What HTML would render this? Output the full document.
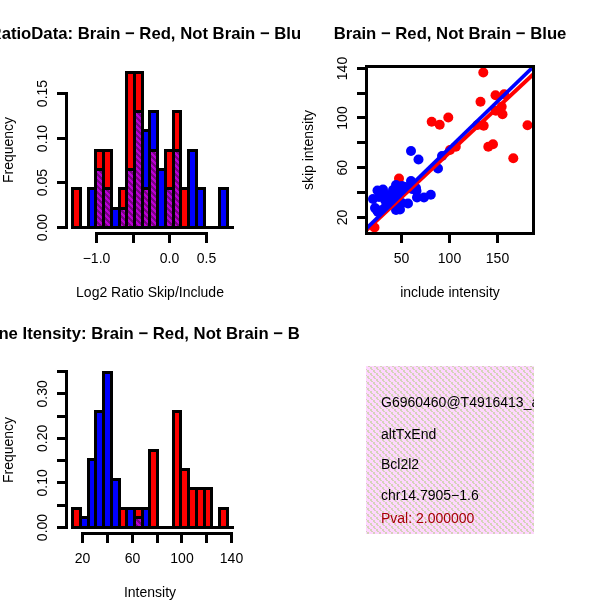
<!DOCTYPE html>
<html lang="en"><head><meta charset="utf-8"><title>Brain vs Not Brain plots</title>
<style>html,body{margin:0;padding:0;background:#fff}body{width:600px;height:600px;overflow:hidden}svg{display:block;will-change:transform;transform:translateZ(0)}text{white-space:pre}</style>
</head><body>
<svg width="600" height="600" viewBox="0 0 600 600" font-family="'Liberation Sans', sans-serif" fill="#000"><defs>
<pattern id="mg" width="6" height="6" patternUnits="userSpaceOnUse" shape-rendering="crispEdges"><rect width="6" height="6" fill="#b900d2"/><g fill="#7a0084"><rect x="0" y="0" width="1" height="1"/><rect x="1" y="0" width="1" height="1"/><rect x="2" y="0" width="1" height="1"/><rect x="1" y="1" width="1" height="1"/><rect x="2" y="1" width="1" height="1"/><rect x="3" y="1" width="1" height="1"/><rect x="2" y="2" width="1" height="1"/><rect x="3" y="2" width="1" height="1"/><rect x="4" y="2" width="1" height="1"/><rect x="3" y="3" width="1" height="1"/><rect x="4" y="3" width="1" height="1"/><rect x="5" y="3" width="1" height="1"/><rect x="0" y="4" width="1" height="1"/><rect x="4" y="4" width="1" height="1"/><rect x="5" y="4" width="1" height="1"/><rect x="0" y="5" width="1" height="1"/><rect x="1" y="5" width="1" height="1"/><rect x="5" y="5" width="1" height="1"/></g></pattern>
<pattern id="pk" x="0" y="0" width="6" height="6" patternUnits="userSpaceOnUse"><rect width="6" height="6" fill="#ffd6ff"/><g fill="#d4d4b9"><rect x="4" y="1" width="2" height="2"/><rect x="5" y="3" width="1" height="1"/><rect x="0" y="3" width="1" height="1"/><rect x="1" y="4" width="2" height="2"/><rect x="2" y="0" width="2" height="1"/></g></pattern>
</defs><rect width="600" height="600" fill="#fff"/><svg x="0" y="0" width="300" height="300" viewBox="0 0 300 300" overflow="hidden"><text x="150" y="38.6" text-anchor="middle" font-size="16.7" font-weight="bold">RatioData: Brain − Red, Not Brain − Blue</text><g shape-rendering="crispEdges"><rect x="72.5" y="188.5" width="8.0" height="39.0" fill="#f00"/><rect x="88.5" y="188.5" width="7.0" height="39.0" fill="#00f"/><rect x="95.5" y="150.5" width="8.0" height="77.0" fill="#f00"/><rect x="95.5" y="169.5" width="8.0" height="58.0" fill="url(#mg)"/><rect x="103.5" y="150.5" width="8.0" height="77.0" fill="#f00"/><rect x="103.5" y="188.5" width="8.0" height="39.0" fill="url(#mg)"/><rect x="111.5" y="208.5" width="8.0" height="19.0" fill="#00f"/><rect x="119.5" y="188.5" width="7.0" height="39.0" fill="#f00"/><rect x="119.5" y="208.5" width="7.0" height="19.0" fill="url(#mg)"/><rect x="126.5" y="72.5" width="8.0" height="155.0" fill="#f00"/><rect x="126.5" y="169.5" width="8.0" height="58.0" fill="url(#mg)"/><rect x="134.5" y="72.5" width="8.0" height="155.0" fill="#f00"/><rect x="134.5" y="111.5" width="8.0" height="116.0" fill="url(#mg)"/><rect x="142.5" y="188.5" width="7.0" height="39.0" fill="#f00"/><rect x="142.5" y="130.5" width="7.0" height="58.0" fill="#00f"/><rect x="142.5" y="188.5" width="7.0" height="39.0" fill="url(#mg)"/><rect x="149.5" y="150.5" width="8.0" height="77.0" fill="#f00"/><rect x="149.5" y="111.5" width="8.0" height="39.0" fill="#00f"/><rect x="149.5" y="150.5" width="8.0" height="77.0" fill="url(#mg)"/><rect x="157.5" y="169.5" width="8.0" height="58.0" fill="#00f"/><rect x="165.5" y="150.5" width="8.0" height="77.0" fill="#f00"/><rect x="165.5" y="188.5" width="8.0" height="39.0" fill="url(#mg)"/><rect x="173.5" y="111.5" width="7.0" height="116.0" fill="#f00"/><rect x="173.5" y="150.5" width="7.0" height="77.0" fill="url(#mg)"/><rect x="180.5" y="188.5" width="8.0" height="39.0" fill="#f00"/><rect x="188.5" y="150.5" width="8.0" height="77.0" fill="#00f"/><rect x="196.5" y="188.5" width="8.0" height="39.0" fill="#00f"/><rect x="219.5" y="188.5" width="8.0" height="39.0" fill="#00f"/></g><g fill="none" stroke="#000" stroke-width="3" shape-rendering="crispEdges"><rect x="72.5" y="188.5" width="8.0" height="39.0"/><rect x="88.5" y="188.5" width="7.0" height="39.0"/><rect x="95.5" y="150.5" width="8.0" height="77.0"/><rect x="95.5" y="169.5" width="8.0" height="58.0"/><rect x="103.5" y="150.5" width="8.0" height="77.0"/><rect x="103.5" y="188.5" width="8.0" height="39.0"/><rect x="111.5" y="208.5" width="8.0" height="19.0"/><rect x="119.5" y="188.5" width="7.0" height="39.0"/><rect x="119.5" y="208.5" width="7.0" height="19.0"/><rect x="126.5" y="72.5" width="8.0" height="155.0"/><rect x="126.5" y="169.5" width="8.0" height="58.0"/><rect x="134.5" y="72.5" width="8.0" height="155.0"/><rect x="134.5" y="111.5" width="8.0" height="116.0"/><rect x="142.5" y="188.5" width="7.0" height="39.0"/><rect x="142.5" y="130.5" width="7.0" height="97.0"/><rect x="149.5" y="150.5" width="8.0" height="77.0"/><rect x="149.5" y="111.5" width="8.0" height="116.0"/><rect x="157.5" y="169.5" width="8.0" height="58.0"/><rect x="165.5" y="150.5" width="8.0" height="77.0"/><rect x="165.5" y="188.5" width="8.0" height="39.0"/><rect x="173.5" y="111.5" width="7.0" height="116.0"/><rect x="173.5" y="150.5" width="7.0" height="77.0"/><rect x="180.5" y="188.5" width="8.0" height="39.0"/><rect x="188.5" y="150.5" width="8.0" height="77.0"/><rect x="196.5" y="188.5" width="8.0" height="39.0"/><rect x="219.5" y="188.5" width="8.0" height="39.0"/><path d="M71 227.5H234"/></g><g fill="none" stroke="#000" stroke-width="3" shape-rendering="crispEdges"><path d="M66.5 92.0V229.0"/><path d="M57 227.5H68"/><path d="M57 182.5H68"/><path d="M57 138.5H68"/><path d="M57 93.5H68"/></g><text transform="translate(46.5 227.5) rotate(-90)" text-anchor="middle" font-size="14">0.00</text><text transform="translate(46.5 182.5) rotate(-90)" text-anchor="middle" font-size="14">0.05</text><text transform="translate(46.5 138.5) rotate(-90)" text-anchor="middle" font-size="14">0.10</text><text transform="translate(46.5 93.5) rotate(-90)" text-anchor="middle" font-size="14">0.15</text><g fill="none" stroke="#000" stroke-width="3" shape-rendering="crispEdges"><path d="M95.0 233.5H208.0"/><path d="M96.5 232.0V243.0"/><path d="M133.5 232.0V243.0"/><path d="M169.5 232.0V243.0"/><path d="M206.5 232.0V243.0"/></g><text x="96.5" y="263" text-anchor="middle" font-size="14">−1.0</text><text x="169.5" y="263" text-anchor="middle" font-size="14">0.0</text><text x="206.5" y="263" text-anchor="middle" font-size="14">0.5</text><text x="150" y="296.7" text-anchor="middle" font-size="14">Log2 Ratio Skip/Include</text><text transform="translate(13 150) rotate(-90)" text-anchor="middle" font-size="14">Frequency</text></svg><svg x="300" y="0" width="300" height="300" viewBox="0 0 300 300" overflow="hidden"><text x="150" y="38.6" text-anchor="middle" font-size="16.7" font-weight="bold">Brain − Red, Not Brain − Blue</text><clipPath id="cp"><rect x="65" y="65" width="170" height="170"/></clipPath><g clip-path="url(#cp)"><g fill="#f00"><circle cx="183.3" cy="72.5" r="5"/><circle cx="195.5" cy="95.3" r="5"/><circle cx="204.2" cy="94.2" r="5"/><circle cx="180.5" cy="101.7" r="5"/><circle cx="201.7" cy="106.7" r="5"/><circle cx="195.8" cy="110.8" r="5"/><circle cx="202.5" cy="114.2" r="5"/><circle cx="148.3" cy="117.5" r="5"/><circle cx="139.7" cy="124.7" r="5"/><circle cx="131.7" cy="121.7" r="5"/><circle cx="183.7" cy="125.8" r="5"/><circle cx="177.5" cy="125" r="5"/><circle cx="227.5" cy="125.3" r="5"/><circle cx="188.3" cy="146.7" r="5"/><circle cx="193" cy="144.2" r="5"/><circle cx="213.3" cy="158.3" r="5"/><circle cx="155.8" cy="146.7" r="5"/><circle cx="150" cy="150" r="5"/><circle cx="99" cy="178.5" r="5"/><circle cx="74.5" cy="227.5" r="5"/></g><g fill="#00f"><circle cx="111" cy="151" r="5"/><circle cx="118.5" cy="159.5" r="5"/><circle cx="142" cy="156" r="5"/><circle cx="138" cy="168.5" r="5"/><circle cx="111" cy="181" r="5"/><circle cx="102" cy="186" r="5"/><circle cx="116" cy="188" r="5"/><circle cx="73" cy="199" r="5"/><circle cx="77.5" cy="190.5" r="5"/><circle cx="83" cy="189.5" r="5"/><circle cx="75" cy="208" r="5"/><circle cx="78" cy="212" r="5"/><circle cx="85" cy="200" r="5"/><circle cx="87" cy="195" r="5"/><circle cx="96" cy="185" r="5"/><circle cx="93" cy="190" r="5"/><circle cx="100" cy="191" r="5"/><circle cx="105" cy="187" r="5"/><circle cx="112" cy="189" r="5"/><circle cx="116.5" cy="191" r="5"/><circle cx="117" cy="197.5" r="5"/><circle cx="108" cy="203.5" r="5"/><circle cx="102" cy="203" r="5"/><circle cx="96" cy="210" r="5"/><circle cx="100" cy="209.5" r="5"/><circle cx="92" cy="203" r="5"/><circle cx="86" cy="206" r="5"/><circle cx="82" cy="210" r="5"/><circle cx="124" cy="197.5" r="5"/><circle cx="130.8" cy="194.7" r="5"/><circle cx="76.7" cy="210" r="5"/><circle cx="79" cy="197" r="5"/><circle cx="94" cy="196" r="5"/><circle cx="96" cy="203" r="5"/><circle cx="90" cy="199" r="5"/></g><path d="M66 230.5L233 74.5" stroke="#f00" stroke-width="3.8" fill="none"/><path d="M66 229L233 67" stroke="#00f" stroke-width="3.8" fill="none"/></g><g fill="none" stroke="#000" stroke-width="3" shape-rendering="crispEdges"><rect x="66.5" y="66.5" width="167" height="167"/><path d="M57 217.5H68"/><path d="M57 192.5H68"/><path d="M57 167.5H68"/><path d="M57 142.5H68"/><path d="M57 117.5H68"/><path d="M57 93.5H68"/><path d="M57 68.5H68"/><path d="M101.5 232V243"/><path d="M149.5 232V243"/><path d="M197.5 232V243"/></g><text transform="translate(46.5 217.5) rotate(-90)" text-anchor="middle" font-size="14">20</text><text transform="translate(46.5 167.8) rotate(-90)" text-anchor="middle" font-size="14">60</text><text transform="translate(46.5 118) rotate(-90)" text-anchor="middle" font-size="14">100</text><text transform="translate(46.5 68.5) rotate(-90)" text-anchor="middle" font-size="14">140</text><text x="101.5" y="263" text-anchor="middle" font-size="14">50</text><text x="149.5" y="263" text-anchor="middle" font-size="14">100</text><text x="197.5" y="263" text-anchor="middle" font-size="14">150</text><text x="150" y="296.7" text-anchor="middle" font-size="14">include intensity</text><text transform="translate(13 150) rotate(-90)" text-anchor="middle" font-size="14">skip intensity</text></svg><svg x="0" y="300" width="300" height="300" viewBox="0 0 300 300" overflow="hidden"><text x="150" y="38.6" text-anchor="middle" font-size="16.7" font-weight="bold">Gene Itensity: Brain − Red, Not Brain − Blue</text><g shape-rendering="crispEdges"><rect x="72.5" y="208.5" width="8.0" height="19.0" fill="#f00"/><rect x="80.5" y="217.5" width="8.0" height="10.0" fill="#00f"/><rect x="88.5" y="159.5" width="7.0" height="68.0" fill="#00f"/><rect x="95.5" y="111.5" width="8.0" height="116.0" fill="#00f"/><rect x="103.5" y="72.5" width="8.0" height="155.0" fill="#00f"/><rect x="111.5" y="179.5" width="8.0" height="48.0" fill="#00f"/><rect x="119.5" y="208.5" width="7.0" height="19.0" fill="#f00"/><rect x="126.5" y="208.5" width="8.0" height="19.0" fill="#00f"/><rect x="134.5" y="208.5" width="8.0" height="19.0" fill="#f00"/><rect x="134.5" y="217.5" width="8.0" height="10.0" fill="url(#mg)"/><rect x="142.5" y="208.5" width="7.0" height="19.0" fill="#00f"/><rect x="149.5" y="150.5" width="8.0" height="77.0" fill="#f00"/><rect x="173.5" y="111.5" width="7.0" height="116.0" fill="#f00"/><rect x="180.5" y="169.5" width="8.0" height="58.0" fill="#f00"/><rect x="188.5" y="188.5" width="8.0" height="39.0" fill="#f00"/><rect x="196.5" y="188.5" width="8.0" height="39.0" fill="#f00"/><rect x="204.5" y="188.5" width="7.0" height="39.0" fill="#f00"/><rect x="219.5" y="208.5" width="8.0" height="19.0" fill="#f00"/></g><g fill="none" stroke="#000" stroke-width="3" shape-rendering="crispEdges"><rect x="72.5" y="208.5" width="8.0" height="19.0"/><rect x="80.5" y="217.5" width="8.0" height="10.0"/><rect x="88.5" y="159.5" width="7.0" height="68.0"/><rect x="95.5" y="111.5" width="8.0" height="116.0"/><rect x="103.5" y="72.5" width="8.0" height="155.0"/><rect x="111.5" y="179.5" width="8.0" height="48.0"/><rect x="119.5" y="208.5" width="7.0" height="19.0"/><rect x="126.5" y="208.5" width="8.0" height="19.0"/><rect x="134.5" y="208.5" width="8.0" height="19.0"/><rect x="134.5" y="217.5" width="8.0" height="10.0"/><rect x="142.5" y="208.5" width="7.0" height="19.0"/><rect x="149.5" y="150.5" width="8.0" height="77.0"/><rect x="173.5" y="111.5" width="7.0" height="116.0"/><rect x="180.5" y="169.5" width="8.0" height="58.0"/><rect x="188.5" y="188.5" width="8.0" height="39.0"/><rect x="196.5" y="188.5" width="8.0" height="39.0"/><rect x="204.5" y="188.5" width="7.0" height="39.0"/><rect x="219.5" y="208.5" width="8.0" height="19.0"/><path d="M71 227.5H234"/></g><g fill="none" stroke="#000" stroke-width="3" shape-rendering="crispEdges"><path d="M66.5 70.0V229.0"/><path d="M57 227.5H68"/><path d="M57 205.5H68"/><path d="M57 182.5H68"/><path d="M57 160.5H68"/><path d="M57 138.5H68"/><path d="M57 116.5H68"/><path d="M57 93.5H68"/><path d="M57 71.5H68"/></g><text transform="translate(46.5 227.5) rotate(-90)" text-anchor="middle" font-size="14">0.00</text><text transform="translate(46.5 182.9) rotate(-90)" text-anchor="middle" font-size="14">0.10</text><text transform="translate(46.5 138.4) rotate(-90)" text-anchor="middle" font-size="14">0.20</text><text transform="translate(46.5 93.8) rotate(-90)" text-anchor="middle" font-size="14">0.30</text><g fill="none" stroke="#000" stroke-width="3" shape-rendering="crispEdges"><path d="M81.0 233.5H233.0"/><path d="M82.5 232.0V243.0"/><path d="M107.5 232.0V243.0"/><path d="M132.5 232.0V243.0"/><path d="M157.5 232.0V243.0"/><path d="M181.5 232.0V243.0"/><path d="M206.5 232.0V243.0"/><path d="M231.5 232.0V243.0"/></g><text x="82.5" y="263" text-anchor="middle" font-size="14">20</text><text x="132.5" y="263" text-anchor="middle" font-size="14">60</text><text x="182" y="263" text-anchor="middle" font-size="14">100</text><text x="231.5" y="263" text-anchor="middle" font-size="14">140</text><text x="150" y="296.7" text-anchor="middle" font-size="14">Intensity</text><text transform="translate(13 150) rotate(-90)" text-anchor="middle" font-size="14">Frequency</text></svg><svg x="300" y="300" width="300" height="300" viewBox="0 0 300 300" overflow="hidden"><rect x="66" y="66" width="168" height="168" fill="url(#pk)" shape-rendering="crispEdges"/><clipPath id="cp4"><rect x="66" y="66" width="168" height="168"/></clipPath><g clip-path="url(#cp4)"><text x="81" y="107.3" font-size="14" fill="#000">G6960460@T4916413_at</text><text x="81" y="138.6" font-size="14" fill="#000">altTxEnd</text><text x="81" y="168.9" font-size="14" fill="#000">Bcl2l2</text><text x="81" y="199.9" font-size="14" fill="#000">chr14.7905−1.6</text><text x="81" y="223.3" font-size="14" fill="#a50005">Pval: 2.000000</text></g></svg></svg>
</body></html>
